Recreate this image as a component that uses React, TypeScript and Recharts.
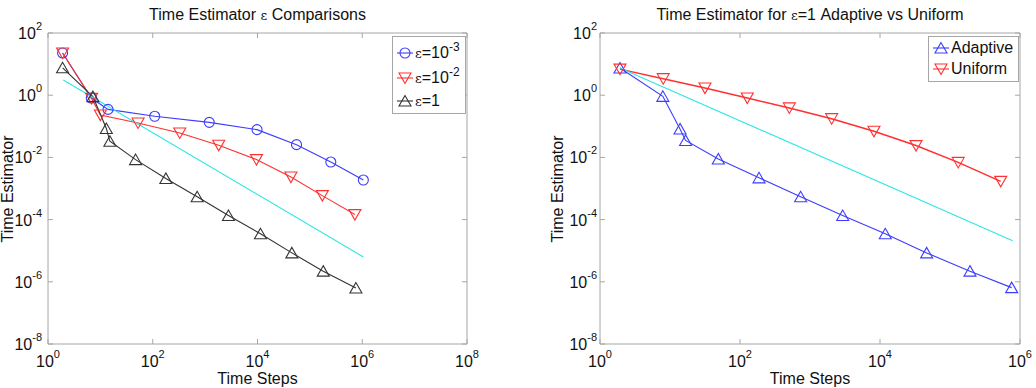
import { LineChart, Line, XAxis, YAxis, Legend, ReferenceArea } from 'recharts'

// left panel: epsilon comparison
const stepsE3 = [1.9, 6.7, 14, 109, 1200, 9800, 55600, 251000, 1050000]
const estE3 = [22.8, 0.81, 0.35, 0.21, 0.134, 0.078, 0.0257, 0.0071, 0.00187]
const stepsE2 = [1.9, 6.8, 10, 52.5, 328, 1820, 9560, 43500, 173000, 724000]
const estE2 = [22.8, 0.79, 0.23, 0.128, 0.061, 0.0245, 0.0085, 0.00234, 0.00059, 0.000145]
const stepsE1 = [1.9, 7.2, 13, 15.2, 47, 178, 705, 2790, 11400, 45300, 180000, 757000]
const estE1 = [7.6, 0.9, 0.085, 0.033, 0.0085, 0.0021, 0.00054, 0.000135, 3.5e-5, 8.5e-6, 2.2e-6, 6.3e-7]
const refLeftSteps = [1.96, 1050000]
const refLeftEst = [3.1, 6.3e-6]

// right panel: adaptive vs uniform
const stepsAdaptive = [1.93, 7.9, 13.9, 16.7, 49, 187, 735, 2930, 11900, 46400, 193000, 760000]
const estAdaptive = [7.5, 0.92, 0.082, 0.035, 0.0089, 0.0022, 0.00054, 0.000135, 3.5e-5, 8.5e-6, 2.2e-6, 6.5e-7]
const stepsUniform = [1.93, 8.0, 31.6, 127, 507, 2040, 8200, 32700, 131000, 530000]
const estUniform = [6.9, 3.4, 1.7, 0.81, 0.39, 0.176, 0.069, 0.024, 0.0069, 0.0017]
const refRightSteps = [1.93, 786000]
const refRightEst = [7.5, 2.1e-5]

const xTicksLeft = [1, 1e2, 1e4, 1e6, 1e8]
const xTicksRight = [1, 1e2, 1e4, 1e6]
const yTicks = [1e-8, 1e-6, 1e-4, 1e-2, 1, 1e2]

const FONT = '"Liberation Sans", Arial, Helvetica, sans-serif'
const BOX = '#a6a6a6'
const TXT = '#111111'
const BLUE = '#3c3cff'
const RED = '#ff3030'
const DARK = '#333333'
const CYAN = '#2ee6e6'

const PLOT_TOP = 33
const PLOT_BOTTOM = 344
const H = 388

type Marker = 'circle' | 'up' | 'down' | 'none'

interface Series {
  name: string
  steps: number[]
  est: number[]
  color: string
  marker: Marker
  width?: number
  label?: 'e3' | 'e2' | 'e1' | 'text'
}

const toPoints = (xs: number[], ys: number[]) => xs.map((x, i) => ({ x, y: ys[i] }))

function markerShape(kind: Marker, cx: number, cy: number, color: string, key?: string | number) {
  if (kind === 'none') return <g key={key} />
  if (kind === 'circle')
    return <circle key={key} cx={cx} cy={cy} r={5} fill="none" stroke={color} strokeWidth={1.1} />
  const pts =
    kind === 'up'
      ? `${cx},${cy - 5.5} ${cx - 6},${cy + 5} ${cx + 6},${cy + 5}`
      : `${cx - 6},${cy - 5} ${cx + 6},${cy - 5} ${cx},${cy + 5.5}`
  return <polygon key={key} points={pts} fill="none" stroke={color} strokeWidth={1.1} />
}

const expOf = (v: number) => Math.round(Math.log10(v))

function Eps() {
  return <span style={{ fontSize: 13, fontFamily: '"DejaVu Serif", serif' }}>ε</span>
}

function Sup({ children }: { children: string }) {
  return <span style={{ fontSize: 12, position: 'relative', top: -7 }}>{children}</span>
}

function legendText(s: Series) {
  if (s.label === 'e3') return <><Eps />=10<Sup>-3</Sup></>
  if (s.label === 'e2') return <><Eps />=10<Sup>-2</Sup></>
  if (s.label === 'e1') return <><Eps />=1</>
  return s.name
}

interface PanelProps {
  offsetX: number
  width: number
  left: number
  right: number
  xMax: number
  xTicks: number[]
  yGap: number
  yLabelX: number
  title: React.ReactNode
  series: Series[]
  legend: { left: number; top: number; width: number; rows: number[] }
}

function Panel({ offsetX, width, left, right, xMax, xTicks, yGap, yLabelX, title, series, legend }: PanelProps) {
  const axisW = 40
  const axisH = 30
  const legendSeries = series.filter((s) => s.label)
  const legendHeight = legend.rows[legend.rows.length - 1] + 14

  const xTick = (p: any) => {
    const e = expOf(p.payload.value)
    const x = p.x
    return (
      <g>
        <line x1={x} x2={x} y1={PLOT_BOTTOM} y2={PLOT_BOTTOM - 5} stroke={BOX} />
        <line x1={x} x2={x} y1={PLOT_TOP} y2={PLOT_TOP + 5} stroke={BOX} />
        <text x={x} y={PLOT_BOTTOM + 23} textAnchor="middle" fontSize={16} fill={TXT} fontFamily={FONT}>
          10<tspan dy={-9} fontSize={11}>{e}</tspan>
        </text>
      </g>
    )
  }

  const yTick = (p: any) => {
    const e = expOf(p.payload.value)
    const y = p.y
    return (
      <g>
        <line x1={left} x2={left + 5} y1={y} y2={y} stroke={BOX} />
        <line x1={right} x2={right - 5} y1={y} y2={y} stroke={BOX} />
        <text x={left - yGap} y={y + 6} textAnchor="end" fontSize={16} fill={TXT} fontFamily={FONT}>
          10<tspan dy={-9} fontSize={11}>{e}</tspan>
        </text>
      </g>
    )
  }

  return (
    <div style={{ position: 'absolute', left: offsetX, top: 0, width, height: H, fontFamily: FONT, color: TXT }}>
      <div style={{ position: 'absolute', left, width: right - left, top: 6, textAlign: 'center', fontSize: 16, lineHeight: '18px', whiteSpace: 'nowrap' }}>
        {title}
      </div>
      <div style={{ position: 'absolute', left, width: right - left, top: 372, textAlign: 'center', fontSize: 16, lineHeight: '14px' }}>
        Time Steps
      </div>
      <div style={{ position: 'absolute', left: yLabelX - 100, top: (PLOT_TOP + PLOT_BOTTOM) / 2 - 10, width: 200, height: 20, textAlign: 'center', fontSize: 16, lineHeight: '20px', transform: 'rotate(-90deg)' }}>
        Time Estimator
      </div>
      <LineChart
        width={width}
        height={H}
        margin={{ top: PLOT_TOP, right: width - right, bottom: H - PLOT_BOTTOM - axisH, left: left - axisW }}
      >
        <XAxis
          dataKey="x"
          type="number"
          scale="log"
          domain={[1, xMax]}
          ticks={xTicks}
          interval={0}
          allowDataOverflow
          axisLine={false}
          tickLine={false}
          height={axisH}
          tick={xTick}
        />
        <YAxis
          type="number"
          scale="log"
          domain={[1e-8, 100]}
          ticks={yTicks}
          interval={0}
          allowDataOverflow
          axisLine={false}
          tickLine={false}
          width={axisW}
          tick={yTick}
        />
        <ReferenceArea x1={1} x2={xMax} y1={1e-8} y2={100} fill="none" stroke={BOX} strokeWidth={1} />
        {series.map((s) => (
          <Line
            key={s.name}
            data={toPoints(s.steps, s.est)}
            dataKey="y"
            name={s.name}
            stroke={s.color}
            strokeWidth={s.width ?? 1.1}
            dot={(d: any) => markerShape(s.marker, d.cx, d.cy, s.color, d.index)}
            activeDot={false}
            legendType="none"
            isAnimationActive={false}
          />
        ))}
        <Legend
          layout="horizontal"
          align="center"
          verticalAlign="middle"
          wrapperStyle={{ left: legend.left, top: legend.top, width: legend.width, height: legendHeight }}
          content={() => (
            <div style={{ position: 'relative', width: legend.width - 2, height: legendHeight - 2, border: `1px solid ${BOX}`, background: '#fff', fontFamily: FONT, color: TXT }}>
              {legendSeries.map((s, i) => (
                <div key={s.name} style={{ position: 'absolute', left: 0, top: legend.rows[i] - 10, height: 20, display: 'flex', alignItems: 'center', fontSize: 16, whiteSpace: 'nowrap' }}>
                  <svg width={22} height={20} style={{ display: 'block' }}>
                    <line x1={4} x2={20} y1={10} y2={10} stroke={s.color} strokeWidth={1.1} />
                    {markerShape(s.marker, 12, 10, s.color)}
                  </svg>
                  <span style={{ lineHeight: '20px' }}>{legendText(s)}</span>
                </div>
              ))}
            </div>
          )}
        />
      </LineChart>
    </div>
  )
}

const leftSeries: Series[] = [
  { name: 'e3', steps: stepsE3, est: estE3, color: BLUE, marker: 'circle', label: 'e3' },
  { name: 'e2', steps: stepsE2, est: estE2, color: RED, marker: 'down', label: 'e2' },
  { name: 'e1', steps: stepsE1, est: estE1, color: DARK, marker: 'up', label: 'e1' },
  { name: 'ref', steps: refLeftSteps, est: refLeftEst, color: CYAN, marker: 'none' },
]

const rightSeries: Series[] = [
  { name: 'Adaptive', steps: stepsAdaptive, est: estAdaptive, color: BLUE, marker: 'up', label: 'text' },
  { name: 'Uniform', steps: stepsUniform, est: estUniform, color: RED, marker: 'down', width: 1.5, label: 'text' },
  { name: 'ref', steps: refRightSteps, est: refRightEst, color: CYAN, marker: 'none' },
]

export default function App() {
  return (
    <div style={{ position: 'absolute', left: 0, top: 0, width: 1036, height: 388, background: '#fff' }}>
      <Panel
        offsetX={0}
        width={520}
        left={48}
        right={467}
        xMax={1e8}
        xTicks={xTicksLeft}
        yGap={6}
        yLabelX={8}
        title={<>Time Estimator <Eps /> Comparisons</>}
        series={leftSeries}
        legend={{ left: 392, top: 36, width: 74, rows: [16, 41, 64] }}
      />
      <Panel
        offsetX={520}
        width={516}
        left={80}
        right={500}
        xMax={1e6}
        xTicks={xTicksRight}
        yGap={3}
        yLabelX={38}
        title={<>Time Estimator for <Eps />=1 Adaptive vs Uniform</>}
        series={rightSeries}
        legend={{ left: 408, top: 36, width: 91, rows: [11, 32] }}
      />
    </div>
  )
}
